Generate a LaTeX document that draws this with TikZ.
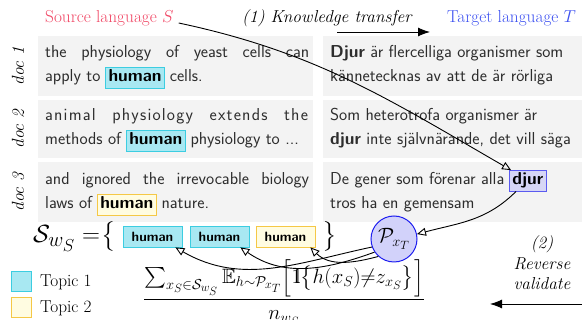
\documentclass[tikz,border=0pt]{standalone}
\usepackage{amsmath,amssymb}
\usepackage{fontspec}
\usetikzlibrary{arrows.meta}
\definecolor{srcred}{RGB}{240,70,100}
\definecolor{tgtblue}{RGB}{60,80,240}
\definecolor{boxgray}{RGB}{243,243,243}
\definecolor{txtgray}{RGB}{45,45,45}
\definecolor{tonefill}{RGB}{168,232,242}
\definecolor{tonedraw}{RGB}{60,205,225}
\definecolor{ttwofill}{RGB}{255,252,225}
\definecolor{ttwodraw}{RGB}{245,200,70}
\definecolor{djfill}{RGB}{214,214,245}
\definecolor{djdraw}{RGB}{90,90,240}
\definecolor{pfill}{RGB}{210,210,250}
\definecolor{pdraw}{RGB}{30,30,240}
\newcommand{\bodyfont}{\sffamily\fontsize{17.28}{24}\selectfont}
\newcommand{\indicone}{\mathrm{1}\mkern-5mu\mathrm{l}}
\def\spreadword#1{\spreadaux#1\relax}
\def\spreadaux#1{\ifx#1\relax\else#1\kern1.2pt\relax\expandafter\spreadaux\fi}
\tikzset{
  docbox/.style={fill=boxgray, draw=none, inner sep=0pt, anchor=north west},
  doctext/.style={font=\bodyfont, text=txtgray, inner sep=0pt, anchor=base west},
  hlbase/.style={font=\bodyfont\bfseries, text=black, line width=0.8pt, inner xsep=3pt, inner ysep=3pt, text height=11.5pt, text depth=3pt, anchor=base west},
  hlone/.style={hlbase, fill=tonefill, draw=tonedraw},
  hltwo/.style={hlbase, fill=ttwofill, draw=ttwodraw},
  hldj/.style={hlbase, fill=djfill, draw=djdraw},
  setbox/.style={font=\sffamily\bfseries\fontsize{13.5}{16}\selectfont, line width=0.8pt, minimum width=59pt, minimum height=21pt, inner sep=0pt},
  doclabel/.style={rotate=90, font=\itshape\fontsize{17.28}{20}\selectfont},
  conn/.style={line width=0.9pt, -{Triangle[open, length=9pt, width=8pt]}},
  bigarrow/.style={line width=0.9pt, -{Latex[length=12pt, width=9pt]}},
  serifl/.style={font=\fontsize{17.28}{20.5}\selectfont, inner sep=0pt},
  keybox/.style={line width=0.8pt, minimum size=20pt, inner sep=0pt},
}
\begin{document}
\begin{tikzpicture}[x=1pt,y=1pt]
\useasboundingbox (0,0) rectangle (582,-320);
% top labels
\node[serifl, text=srcred, anchor=base west] (src) at (45,-23) {Source language $S$};
\node[serifl, anchor=base west] (kt) at (242,-23) {\itshape (1) Knowledge transfer};
\node[serifl, text=tgtblue, anchor=base west] (tgt) at (447,-23) {Target language $T$};
% gray boxes
\node[docbox, minimum width=275pt, minimum height=60pt] (L1) at (38,-36) {};
\node[docbox, minimum width=259pt, minimum height=60pt] (R1) at (323,-36) {};
\node[docbox, minimum width=275pt, minimum height=58pt] (L2) at (38,-100) {};
\node[docbox, minimum width=259pt, minimum height=58pt] (R2) at (323,-100) {};
\node[docbox, minimum width=275pt, minimum height=60pt] (L3) at (38,-162) {};
\node[docbox, minimum width=259pt, minimum height=60pt] (R3) at (323,-162) {};
% doc labels
\node[doclabel] (dl1) at (18,-66) {doc 1};
\node[doclabel] (dl2) at (18,-129) {doc 2};
\node[doclabel] (dl3) at (18,-192) {doc 3};
% doc 1
\node[doctext] (l1a) at (45,-58) {\makebox[264pt][s]{the physiology of yeast cells can}};
\node[doctext] (l1b) at (45,-82) {apply to};
\node[hlone] (h1) at ([xshift=4.5pt]l1b.base east) {human};
\node[doctext] (l1c) at ([xshift=4.5pt]h1.base east) {cells.};
\node[doctext] (r1a) at (330,-58) {\textbf{Djur} är flercelliga organismer som};
\node[doctext] (r1b) at (330,-82) {kännetecknas av att de är rörliga};
% doc 2
\node[doctext] (l2a) at (45,-121) {\makebox[264pt][s]{\spreadword{animal} \spreadword{physiology} \spreadword{extends} \spreadword{the}}};
\node[doctext] (l2b) at (45,-145) {methods of};
\node[hlone] (h2) at ([xshift=4.5pt]l2b.base east) {human};
\node[doctext] (l2c) at ([xshift=4.5pt]h2.base east) {physiology to ...};
\node[doctext] (r2a) at (330,-121) {Som heterotrofa organismer är};
\node[doctext] (r2b) at (330,-145) {\textbf{djur} inte självnärande, det vill säga};
% doc 3
\node[doctext] (l3a) at (45,-185) {\makebox[264pt][s]{and ignored the irrevocable biology}};
\node[doctext] (l3b) at (45,-209) {laws of};
\node[hltwo] (h3) at ([xshift=4.5pt]l3b.base east) {human};
\node[doctext] (l3c) at ([xshift=4.5pt]h3.base east) {nature.};
\node[doctext] (r3a) at (330,-185) {De gener som förenar alla};
\node[hldj] (dj) at ([xshift=4.5pt]r3a.base east) {djur};
\node[doctext] (r3b) at (330,-209) {tros ha en gemensam};
% set
\node[anchor=base west, inner sep=0pt, font=\Huge] (sws) at (33,-243) {$\mathcal{S}_{w_S} = \mkern-4mu\big\{$};
\node[setbox, fill=tonefill, draw=tonedraw] (s1) at (152.5,-236.5) {human};
\node[setbox, fill=tonefill, draw=tonedraw] (s2) at (219.5,-236.5) {human};
\node[setbox, fill=ttwofill, draw=ttwodraw] (s3) at (285.5,-236.5) {human};
\node[font=\Huge, inner sep=0pt] (rb) at (329.5,-236.5) {$\big\}$};
\node[circle, fill=pfill, draw=pdraw, line width=1pt, minimum size=46pt, inner sep=0pt, font=\huge] (P) at (394,-239) {$\mathcal{P}_{x_T}$};
% legend
\node[keybox, fill=tonefill, draw=tonedraw] (k1) at (21,-281) {};
\node[serifl, anchor=base west] (k1t) at (40,-287) {Topic 1};
\node[keybox, fill=ttwofill, draw=ttwodraw] (k2) at (21,-307.5) {};
\node[serifl, anchor=base west] (k2t) at (40,-313) {Topic 2};
% fraction
\node[anchor=base, inner sep=0pt, font=\huge] (fr) at (284,-305) {$\displaystyle\frac{\sum_{x_S\in\mathcal{S}_{w_S}}\mathbb{E}_{h\sim\mathcal{P}_{x_T}}\Big[\indicone\big\{h(x_S)\mathord{\neq}z_{x_S}\big\}\Big]}{n_{w_S}}$};
% reverse validate
\node[align=center, font=\itshape\fontsize{17.28}{20.5}\selectfont] (rv) at (542,-263) {(2)\\Reverse\\validate};
% arrows
\coordinate (kts) at (337,-32);
\coordinate (kte) at (430,-32);
\draw[bigarrow] (kts) -- (kte);
\coordinate (rvs) at (582,-304);
\coordinate (rve) at (490,-304);
\draw[bigarrow] (rvs) -- (rve);
\draw[conn] ([xshift=5pt]src.base east) to[out=-12, in=150] ([xshift=2pt]dj.north west);
\draw[conn] ([xshift=7pt]dj.south west) to[out=225, in=15] (P.12);
\draw[conn] (P.200) to[out=192, in=-30] ([xshift=-7pt]s1.south east);
\draw[conn] (P.214) to[out=200, in=-35] ([xshift=-9pt]s2.south east);
\draw[conn] (P.228) to[out=195, in=-45] ([xshift=-5pt]s3.south east);
\end{tikzpicture}
\end{document}
